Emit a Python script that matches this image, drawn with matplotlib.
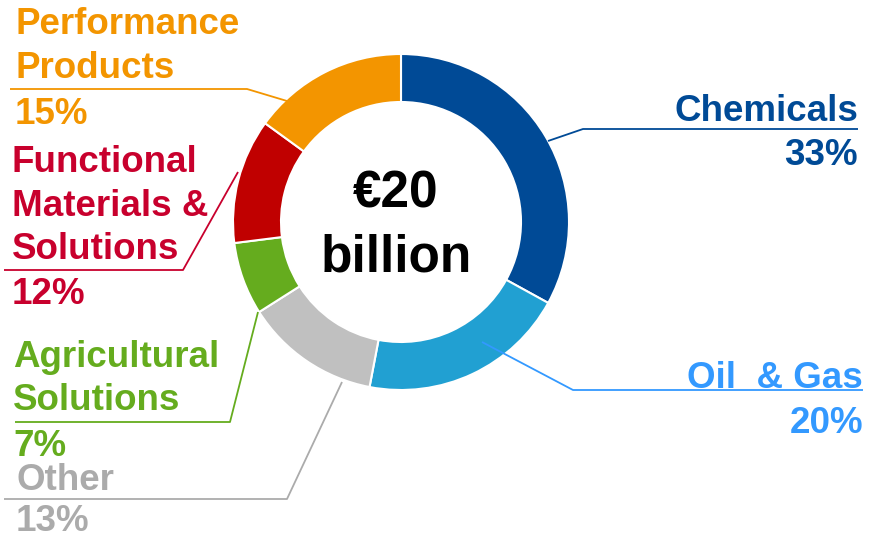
import matplotlib as mpl
mpl.use('Agg')
import matplotlib.pyplot as plt

plt.rcParams['font.family'] = ['Liberation Sans', 'DejaVu Sans']

# segment data, clockwise from 12 o'clock
segments = ["Chemicals", "Oil  & Gas", "Other", "Agricultural\nSolutions",
            "Functional\nMaterials &\nSolutions", "Performance\nProducts"]
shares = [33, 20, 13, 7, 12, 15]
wedge_colors = ["#004A96", "#21A0D2", "#C0C0C0", "#65AC1E", "#C00000", "#F39500"]
text_colors = ["#004A96", "#3399FF", "#ABABAB", "#65AC1E", "#C8002D", "#F39500"]
total_label = ["€20", "billion"]

# label layout in pixel coords:
# (x, first baseline, gap to percent line, alignment, leader polyline)
layout = [
    (858, 121, 44, 'right', [(548, 141), (583, 129), (858, 129)]),
    (863, 388, 45, 'right', [(482, 342), (573, 390), (863, 390)]),
    (16, 490, 41, 'left', [(342, 382), (287, 499), (4, 499)]),
    (13, 367, 45, 'left', [(258, 312), (230, 422), (15, 422)]),
    (12, 172, 45, 'left', [(238, 172), (183, 270), (4, 270)]),
    (15, 34, 46, 'left', [(287, 101), (247, 89), (10, 89)]),
]

W, H = 869, 540
fig = plt.figure(figsize=(W / 100, H / 100), dpi=100)
ax = fig.add_axes([0, 0, 1, 1])

# y axis runs downward, so counterclockwise in data is clockwise on screen
ax.pie(shares, colors=wedge_colors, startangle=-90, counterclock=True,
       center=(401, 222), radius=168,
       wedgeprops=dict(width=48, edgecolor='white', linewidth=1.5))

ax.set_xlim(0, W)
ax.set_ylim(H, 0)
ax.set_aspect('equal')
ax.axis('off')

fs = 26.5
line_h = 43.5
for name, share, col, (x, y0, gap, ha, pts) in zip(segments, shares, text_colors, layout):
    lines = name.split("\n")
    for i, ln in enumerate(lines):
        ax.text(x, y0 + i * line_h, ln, color=col, fontsize=fs, fontweight='bold',
                ha=ha, va='baseline')
    ax.text(x, y0 + (len(lines) - 1) * line_h + gap, f"{share}%", color=col,
            fontsize=fs, fontweight='bold', ha=ha, va='baseline')
    xs, ys = zip(*pts)
    ax.plot(xs, ys, color=col, lw=1.3, solid_capstyle='butt')

ax.text(396, 207, total_label[0], fontsize=37, fontweight='bold', ha='center', va='baseline')
ax.text(396, 272, total_label[1], fontsize=37, fontweight='bold', ha='center', va='baseline')

fig.savefig("out.png", dpi=100)
